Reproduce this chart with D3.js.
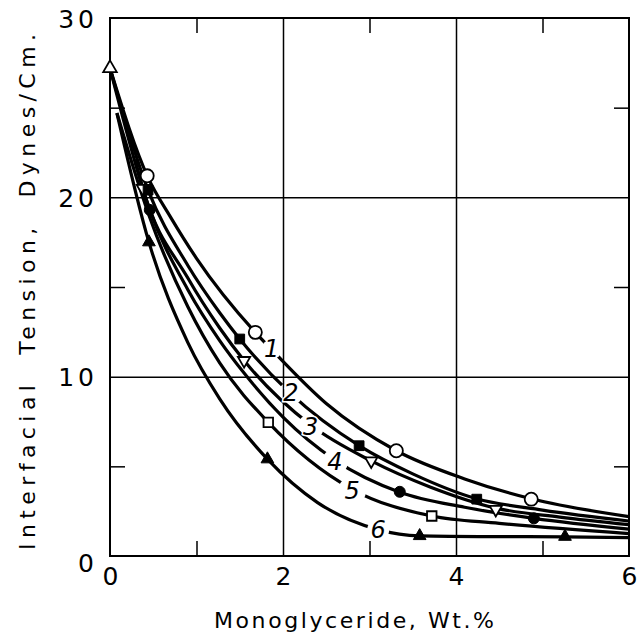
<!DOCTYPE html>
<html lang="en">
<head>
<meta charset="UTF-8">
<title>Interfacial Tension vs Monoglyceride</title>
<style>
  body { margin: 0; background: #fff; }
  text { font-family: "DejaVu Sans", sans-serif; fill: #000; }
</style>
</head>
<body>
<div id="chart"></div>
<script src="https://cdn.jsdelivr.net/npm/d3@7"></script>
<script>
const xTicks = [0, 2, 4, 6];
const yTicks = [0, 10, 20, 30];
const xMinor = [1, 3, 5];
const yMinor = [5, 15, 25];
const xGrid = [2, 4];
const yGrid = [10, 20];

// curve numbers and where each number sits on its curve
const curveLabels = ["1", "2", "3", "4", "5", "6"];
const labelAt = [[1.87, 11.53], [2.09, 9.07], [2.32, 7.2], [2.6, 5.25], [2.8, 3.65], [3.1, 1.45]];
const labelGap = [10, 12, 13, 13, 14, 11];

// smoothed curves: [wt %, dynes/cm]
const curve1 = [[0, 27.2], [0.44, 21.1], [0.7, 18.9], [1.0, 16.6], [1.68, 12.47], [1.87, 11.5], [2.5, 8.5], [3.31, 5.87], [4.1, 4.3], [4.87, 3.19], [6, 2.2]];
const curve2 = [[0, 27.2], [0.44, 20.4], [0.9, 16.2], [1.27, 13.55], [1.5, 12.1], [2.09, 9.05], [2.88, 6.15], [3.5, 4.58], [4.24, 3.19], [5.0, 2.56], [6, 1.95]];
const curve3 = [[0.29, 22.1], [0.38, 20.5], [0.9, 15.5], [1.27, 12.7], [1.55, 10.9], [2.32, 7.3], [3.02, 5.3], [3.7, 3.85], [4.46, 2.67], [5.2, 2.17], [6, 1.75]];
const curve4 = [[0, 27.2], [0.46, 19.3], [0.9, 14.85], [1.27, 12.0], [1.55, 10.2], [2.0, 7.74], [2.6, 5.35], [3.35, 3.56], [4.1, 2.72], [4.9, 2.1], [6, 1.5]];
const curve5 = [[0.08, 24.7], [0.45, 19.0], [0.9, 13.9], [1.27, 10.75], [1.83, 7.45], [2.3, 5.35], [2.8, 3.72], [3.72, 2.23], [4.5, 1.82], [6, 1.25]];
const curve6 = [[0.08, 24.7], [0.45, 17.5], [0.9, 11.9], [1.27, 8.75], [1.82, 5.4], [2.4, 2.98], [3.1, 1.47], [3.58, 1.12], [4.4, 1.08], [5.26, 1.07], [6, 1.02]];
const curves = [curve1, curve2, curve3, curve4, curve5, curve6];

// measured points
const startPoint = [[0, 27.2]];
const pts1 = [[0.43, 21.2], [1.68, 12.47], [3.31, 5.87], [4.87, 3.17]];   // open circles
const pts2 = [[0.44, 20.4], [1.5, 12.1], [2.88, 6.15], [4.24, 3.17]];     // filled squares
const pts3 = [[0.38, 20.5], [1.55, 10.9], [3.02, 5.3], [4.46, 2.6]];      // open down triangles
const pts4 = [[0.46, 19.3], [3.35, 3.58], [4.9, 2.1]];                    // filled circles
const pts5 = [[1.83, 7.45], [3.72, 2.23]];                                // open squares
const pts6 = [[0.45, 17.5], [1.82, 5.4], [3.58, 1.12], [5.26, 1.08]];     // filled triangles

const W = 639, H = 639;
const x = d3.scaleLinear().domain([0, 6]).range([110, 629]);
const y = d3.scaleLinear().domain([0, 30]).range([556, 18]);
const pw = x(6) - x(0), ph = y(0) - y(30);

const svg = d3.select("#chart").append("svg")
    .attr("width", W)
    .attr("height", H);

const defs = svg.append("defs");

// grid lines
svg.append("g")
    .attr("transform", `translate(0,${y(0)})`)
    .call(d3.axisBottom(x).tickValues(xGrid).tickSize(-ph).tickFormat(""))
    .call(g => g.select(".domain").remove())
    .selectAll("line").attr("stroke", "#000").attr("stroke-width", 1.5);
svg.append("g")
    .attr("transform", `translate(${x(0)},0)`)
    .call(d3.axisLeft(y).tickValues(yGrid).tickSize(-pw).tickFormat(""))
    .call(g => g.select(".domain").remove())
    .selectAll("line").attr("stroke", "#000").attr("stroke-width", 1.5);

// short inner ticks on all four sides
const minor = [
    [d3.axisBottom(x).tickValues(xMinor), `translate(0,${y(0)})`],
    [d3.axisTop(x).tickValues(xMinor), `translate(0,${y(30)})`],
    [d3.axisLeft(y).tickValues(yMinor), `translate(${x(0)},0)`],
    [d3.axisRight(y).tickValues(yMinor), `translate(${x(6)},0)`]
];
minor.forEach(([ax, tr]) => {
    svg.append("g")
        .attr("transform", tr)
        .call(ax.tickSize(-15).tickFormat(""))
        .call(g => g.select(".domain").remove())
        .selectAll("line").attr("stroke", "#000").attr("stroke-width", 1.5);
});

// frame
svg.append("rect")
    .attr("x", x(0)).attr("y", y(30))
    .attr("width", pw).attr("height", ph)
    .attr("fill", "none").attr("stroke", "#000").attr("stroke-width", 2);

// tick labels
svg.append("g")
    .attr("transform", `translate(0,${y(0)})`)
    .call(d3.axisBottom(x).tickValues(xTicks).tickSize(0).tickPadding(11).tickFormat(d3.format("d")))
    .call(g => g.select(".domain").remove())
    .selectAll("text")
    .attr("font-family", "DejaVu Sans").attr("font-size", 25);

const ls = 4;
svg.append("g")
    .attr("transform", `translate(${x(0)},0)`)
    .call(d3.axisLeft(y).tickValues(yTicks).tickSize(0).tickPadding(16).tickFormat(d3.format("d")))
    .call(g => g.select(".domain").remove())
    .selectAll("text")
    .attr("font-family", "DejaVu Sans").attr("font-size", 25)
    .attr("letter-spacing", ls)
    .attr("x", -16 + ls)
    .attr("dy", d => d === 0 ? "0.6em" : "0.36em");

// axis titles
svg.append("text")
    .attr("transform", "translate(27,292) rotate(-90)")
    .attr("text-anchor", "middle")
    .attr("dominant-baseline", "central")
    .attr("font-size", 22)
    .attr("textLength", 516)
    .attr("lengthAdjust", "spacing")
    .style("white-space", "pre")
    .text("Interfacial  Tension,  Dynes/Cm.");

svg.append("text")
    .attr("x", 354).attr("y", 628)
    .attr("text-anchor", "middle")
    .attr("font-size", 22)
    .attr("textLength", 280)
    .attr("lengthAdjust", "spacing")
    .text("Monoglyceride, Wt.%");

// curves, each broken where its number sits
const line = d3.line()
    .x(d => x(d[0]))
    .y(d => y(d[1]))
    .curve(d3.curveMonotoneX);

curves.forEach((c, i) => {
    const m = defs.append("mask")
        .attr("id", "gap" + i)
        .attr("maskUnits", "userSpaceOnUse")
        .attr("x", 0).attr("y", 0).attr("width", W).attr("height", H);
    m.append("rect").attr("width", W).attr("height", H).attr("fill", "#fff");
    m.append("circle")
        .attr("cx", x(labelAt[i][0])).attr("cy", y(labelAt[i][1]))
        .attr("r", labelGap[i]).attr("fill", "#000");

    svg.append("path")
        .datum(c)
        .attr("d", line)
        .attr("fill", "none")
        .attr("stroke", "#000")
        .attr("stroke-width", 3.2)
        .attr("mask", `url(#gap${i})`);
});

svg.append("g")
    .selectAll("text")
    .data(curveLabels)
    .join("text")
    .attr("x", (d, i) => x(labelAt[i][0]))
    .attr("y", (d, i) => y(labelAt[i][1]))
    .attr("text-anchor", "middle")
    .attr("dominant-baseline", "central")
    .attr("font-size", 24)
    .attr("font-style", "italic")
    .attr("stroke", "#fff").attr("stroke-width", 3)
    .attr("paint-order", "stroke")
    .text(d => d);

// markers
function marker(data, type, size, filled, rot) {
    svg.append("g")
        .selectAll("path")
        .data(data)
        .join("path")
        .attr("transform", d => `translate(${x(d[0])},${y(d[1])}) rotate(${rot || 0})`)
        .attr("d", d3.symbol().type(type).size(size))
        .attr("fill", filled ? "#000" : "#fff")
        .attr("stroke", "#000")
        .attr("stroke-width", filled ? 1 : 1.8);
}

marker(pts6, d3.symbolTriangle, 70, true);
marker(pts5, d3.symbolSquare, 90, false);
marker(pts4, d3.symbolCircle, 95, true);
marker(pts3, d3.symbolTriangle, 65, false, 180);
marker(pts2, d3.symbolSquare, 95, true);
marker(pts1, d3.symbolCircle, 135, false);
marker(startPoint, d3.symbolTriangle, 80, false);
</script>
</body>
</html>
